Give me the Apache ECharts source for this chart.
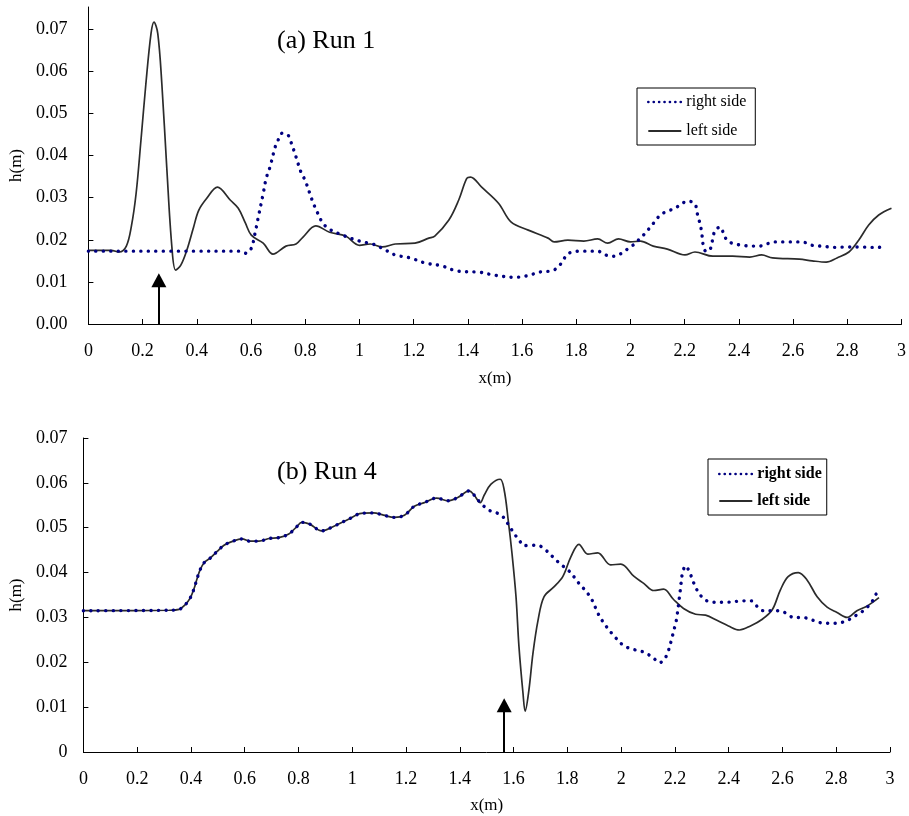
<!DOCTYPE html>
<html>
<head>
<meta charset="utf-8">
<script src="https://cdn.jsdelivr.net/npm/echarts@6/dist/echarts.min.js"></script>
<style>
    html, body { margin: 0; padding: 0; background: #fff; }
    #chart { width: 909px; height: 816px; }
</style>
</head>
<body>
<div id="chart"></div>
<script>
// tick values
const xTicks = [0, 0.2, 0.4, 0.6, 0.8, 1, 1.2, 1.4, 1.6, 1.8, 2, 2.2, 2.4, 2.6, 2.8, 3];
const yTicks = [0, 0.01, 0.02, 0.03, 0.04, 0.05, 0.06, 0.07];

// (a) Run 1 - left side [x, h]
const leftA = [
    [0, 0.0175], [0.084, 0.0175], [0.114, 0.0171], [0.14, 0.0185], [0.158, 0.0230], [0.176, 0.031],
    [0.194, 0.0437], [0.212, 0.057], [0.231, 0.069], [0.242, 0.0717], [0.256, 0.069], [0.271, 0.057],
    [0.289, 0.0373], [0.308, 0.0183], [0.322, 0.0128], [0.341, 0.014], [0.363, 0.0175], [0.388, 0.023],
    [0.407, 0.027], [0.436, 0.0298], [0.476, 0.0325], [0.524, 0.0294], [0.553, 0.0275], [0.579, 0.024],
    [0.601, 0.0211], [0.645, 0.0192], [0.681, 0.0166], [0.729, 0.0185], [0.766, 0.019], [0.791, 0.0206],
    [0.839, 0.0233], [0.890, 0.0218], [0.949, 0.0209], [1.0, 0.0187], [1.040, 0.019], [1.084, 0.0183],
    [1.132, 0.019], [1.205, 0.0192], [1.256, 0.0204], [1.278, 0.0209], [1.330, 0.0247], [1.366, 0.0294],
    [1.396, 0.0346], [1.410, 0.0349], [1.451, 0.0325], [1.513, 0.0287], [1.560, 0.0242], [1.623, 0.0223],
    [1.696, 0.0204], [1.718, 0.0195], [1.769, 0.0199], [1.828, 0.0197], [1.879, 0.0202], [1.916, 0.0192],
    [1.956, 0.0202], [2.0, 0.0195], [2.037, 0.0197], [2.084, 0.0185], [2.136, 0.0178], [2.201, 0.0164],
    [2.238, 0.0171], [2.304, 0.0161], [2.377, 0.0161], [2.440, 0.0159], [2.484, 0.0164], [2.524, 0.0157],
    [2.623, 0.0154], [2.670, 0.015], [2.722, 0.0147], [2.762, 0.0157], [2.806, 0.0171], [2.842, 0.0199],
    [2.879, 0.0235], [2.916, 0.0259], [2.963, 0.0275]
];

// (a) Run 1 - right side
const rightA = [
    [0, 0.0173], [0.56, 0.0173], [0.582, 0.0168], [0.601, 0.018], [0.615, 0.0216], [0.626, 0.0251],
    [0.645, 0.031], [0.656, 0.0346], [0.670, 0.0373], [0.689, 0.042], [0.700, 0.0437], [0.714, 0.0453],
    [0.736, 0.0449], [0.747, 0.0433], [0.766, 0.0397], [0.784, 0.0361], [0.799, 0.0342], [0.817, 0.031],
    [0.828, 0.029], [0.839, 0.0273], [0.853, 0.0254], [0.864, 0.024], [0.890, 0.0225], [0.938, 0.0211],
    [1.0, 0.0197], [1.048, 0.019], [1.084, 0.018], [1.132, 0.0164], [1.187, 0.0157], [1.242, 0.0145],
    [1.304, 0.0138], [1.359, 0.0126], [1.443, 0.0123], [1.498, 0.0116], [1.571, 0.0111], [1.615, 0.0114],
    [1.670, 0.0124], [1.707, 0.0126], [1.733, 0.0135], [1.773, 0.0168], [1.817, 0.0173], [1.879, 0.0173],
    [1.908, 0.0164], [1.938, 0.0161], [1.967, 0.0168], [1.993, 0.018], [2.015, 0.019], [2.033, 0.0202],
    [2.055, 0.0216], [2.073, 0.023], [2.092, 0.0245], [2.110, 0.0259], [2.136, 0.0268], [2.165, 0.0275],
    [2.187, 0.0285], [2.212, 0.0292], [2.238, 0.0285], [2.245, 0.0266], [2.253, 0.0247], [2.260, 0.0228],
    [2.264, 0.0211], [2.267, 0.0192], [2.278, 0.0173], [2.289, 0.0173], [2.300, 0.019], [2.304, 0.0206],
    [2.315, 0.0225], [2.333, 0.023], [2.344, 0.0213], [2.359, 0.0197], [2.385, 0.019], [2.414, 0.0187],
    [2.447, 0.0185], [2.476, 0.0185], [2.502, 0.019], [2.531, 0.0195], [2.586, 0.0195], [2.615, 0.0195],
    [2.648, 0.0193], [2.670, 0.0187], [2.703, 0.0185], [2.733, 0.0183], [2.762, 0.0182], [2.795, 0.0183],
    [2.850, 0.0183], [2.879, 0.0182], [2.908, 0.0182], [2.938, 0.0183]
];

// (b) Run 4 - left side
const leftB = [
    [0, 0.0315], [0.319, 0.0316], [0.356, 0.0318], [0.378, 0.0328], [0.397, 0.0343], [0.412, 0.0365],
    [0.423, 0.0387], [0.434, 0.0406], [0.449, 0.0422], [0.471, 0.0432], [0.497, 0.0447], [0.523, 0.0461],
    [0.552, 0.0469], [0.590, 0.0475], [0.619, 0.047], [0.653, 0.047], [0.690, 0.0476], [0.727, 0.0478],
    [0.764, 0.0486], [0.793, 0.0502], [0.812, 0.0512], [0.842, 0.0508], [0.886, 0.0493], [0.934, 0.0504],
    [0.986, 0.0519], [1.034, 0.0532], [1.079, 0.0533], [1.116, 0.0528], [1.157, 0.0523], [1.194, 0.0528],
    [1.231, 0.0548], [1.268, 0.0556], [1.313, 0.0566], [1.357, 0.056], [1.394, 0.0568], [1.435, 0.0582],
    [1.453, 0.0573], [1.476, 0.0556], [1.491, 0.0573], [1.516, 0.0597], [1.550, 0.0608], [1.565, 0.0584],
    [1.580, 0.0517], [1.594, 0.0443], [1.609, 0.0346], [1.620, 0.0235], [1.635, 0.0131], [1.643, 0.0091],
    [1.657, 0.0138], [1.672, 0.022], [1.691, 0.0294], [1.713, 0.0346], [1.750, 0.0368], [1.783, 0.0391],
    [1.813, 0.0435], [1.843, 0.0463], [1.876, 0.0441], [1.913, 0.0444], [1.961, 0.0417], [1.999, 0.0419],
    [2.047, 0.0392], [2.084, 0.0376], [2.121, 0.036], [2.158, 0.0363], [2.195, 0.034], [2.232, 0.032],
    [2.277, 0.0307], [2.314, 0.0305], [2.358, 0.0293], [2.399, 0.0281], [2.440, 0.0272], [2.481, 0.0281],
    [2.525, 0.0296], [2.562, 0.0317], [2.592, 0.0361], [2.621, 0.0391], [2.659, 0.04], [2.692, 0.0383],
    [2.729, 0.0346], [2.766, 0.0323], [2.803, 0.0311], [2.840, 0.03], [2.877, 0.0315], [2.914, 0.0325],
    [2.959, 0.0344]
];

// (b) Run 4 - right side
const rightB = [
    [0, 0.0315], [0.319, 0.0316], [0.356, 0.0318], [0.378, 0.0328], [0.397, 0.0343], [0.412, 0.0365],
    [0.423, 0.0387], [0.434, 0.0406], [0.449, 0.0422], [0.471, 0.0432], [0.497, 0.0447], [0.523, 0.0461],
    [0.552, 0.0469], [0.590, 0.0475], [0.619, 0.047], [0.653, 0.047], [0.690, 0.0476], [0.727, 0.0478],
    [0.764, 0.0486], [0.793, 0.0502], [0.812, 0.0512], [0.842, 0.0508], [0.886, 0.0493], [0.934, 0.0504],
    [0.986, 0.0519], [1.034, 0.0532], [1.079, 0.0533], [1.116, 0.0528], [1.157, 0.0523], [1.194, 0.0528],
    [1.231, 0.0548], [1.268, 0.0556], [1.313, 0.0566], [1.357, 0.056], [1.394, 0.0568], [1.435, 0.0582],
    [1.453, 0.0573], [1.476, 0.0556], [1.509, 0.0539], [1.554, 0.0528], [1.583, 0.0505], [1.602, 0.0487],
    [1.620, 0.0473], [1.639, 0.046], [1.665, 0.0461], [1.694, 0.046], [1.720, 0.045], [1.746, 0.0435],
    [1.776, 0.0418], [1.802, 0.0406], [1.824, 0.0391], [1.843, 0.0376], [1.861, 0.0364], [1.880, 0.035],
    [1.895, 0.0335], [1.913, 0.031], [1.935, 0.0288], [1.954, 0.0273], [1.973, 0.0259], [2.010, 0.0237],
    [2.043, 0.0229], [2.073, 0.0225], [2.099, 0.0218], [2.121, 0.0209], [2.143, 0.0199], [2.165, 0.0211],
    [2.176, 0.0226], [2.191, 0.0259], [2.199, 0.0278], [2.206, 0.0296], [2.217, 0.0346], [2.221, 0.0365],
    [2.228, 0.0398], [2.240, 0.0415], [2.255, 0.04], [2.266, 0.0383], [2.277, 0.0367], [2.292, 0.0352],
    [2.310, 0.034], [2.340, 0.0334], [2.395, 0.0334], [2.455, 0.0337], [2.484, 0.0337], [2.507, 0.0324],
    [2.529, 0.0315], [2.562, 0.0315], [2.588, 0.0315], [2.618, 0.0308], [2.640, 0.03], [2.673, 0.03],
    [2.703, 0.0296], [2.729, 0.029], [2.759, 0.0287], [2.788, 0.0287], [2.814, 0.0288], [2.844, 0.0294],
    [2.866, 0.0302], [2.892, 0.0311], [2.914, 0.0322], [2.933, 0.0335], [2.948, 0.0352]
];

// arrows: [x, height of arrow head centre]
const arrowA = [0.26, 0.0104];
const arrowB = [1.565, 0.0104];

const FONT = '"Liberation Serif", "Times New Roman", serif';
const solidColor = '#2b2b2b';
const dotColor = '#000080';

function xAxisOpt(gridIndex, gap) {
    return {
        type: 'value', gridIndex: gridIndex, min: 0, max: 3, interval: 0.2,
        name: 'x(m)', nameLocation: 'middle', nameGap: gap,
        nameTextStyle: { fontFamily: FONT, fontSize: 17, color: '#000' },
        axisLine: { lineStyle: { color: '#000', width: 1 } },
        axisTick: { inside: true, length: 5, lineStyle: { color: '#000' } },
        axisLabel: { fontFamily: FONT, fontSize: 18, color: '#000', margin: 18 },
        splitLine: { show: false }
    };
}

function yAxisOpt(gridIndex, max, gap, margin, fmt) {
    return {
        type: 'value', gridIndex: gridIndex, min: 0, max: max,
        name: 'h(m)', nameLocation: 'middle', nameGap: gap,
        nameTextStyle: { fontFamily: FONT, fontSize: 17, color: '#000' },
        axisLine: { show: true, lineStyle: { color: '#000', width: 1 } },
        axisTick: { show: true, inside: true, length: 5, customValues: yTicks, lineStyle: { color: '#000' } },
        axisLabel: { fontFamily: FONT, fontSize: 18, color: '#000', margin: margin, customValues: yTicks, formatter: fmt },
        splitLine: { show: false }
    };
}

function arrowLine(a) {
    return {
        silent: true,
        symbol: ['none', 'triangle'],
        symbolSize: [15, 14],
        label: { show: false },
        lineStyle: { type: 'solid', color: '#000', width: 2 },
        data: [[{ coord: [a[0], 0] }, { coord: [a[0], a[1]] }]]
    };
}

function solidSeries(data, xi, arrow) {
    return {
        name: 'left side', type: 'line', xAxisIndex: xi, yAxisIndex: xi,
        data: data, symbol: 'none', smooth: 0.35,
        lineStyle: { color: solidColor, width: 1.7 },
        itemStyle: { color: solidColor },
        markLine: arrowLine(arrow)
    };
}

function dotSeries(data, xi) {
    return {
        name: 'right side', type: 'line', xAxisIndex: xi, yAxisIndex: xi,
        data: data, symbol: 'none', smooth: 0.35,
        lineStyle: { color: dotColor, width: 3.4, type: [0.1, 7.4], cap: 'round' },
        itemStyle: { color: dotColor }
    };
}

function legendOpt(left, top, bold, gap, pad) {
    return {
        left: left, top: top, orient: 'vertical',
        itemWidth: 33, itemHeight: 12, itemGap: gap,
        padding: pad,
        borderColor: '#000', borderWidth: 1,
        selectedMode: false,
        itemStyle: { opacity: 0, color: 'transparent', borderWidth: 0 },
        data: [
            { name: 'right side', lineStyle: { color: dotColor, width: 2.6, type: [0.1, 5.3], cap: 'round' } },
            { name: 'left side', lineStyle: { color: solidColor, width: 2, type: 'solid' } }
        ],
        textStyle: { fontFamily: FONT, fontSize: 16, color: '#000', fontWeight: bold ? 'bold' : 'normal' }
    };
}

echarts.init(document.querySelector('#chart')).setOption({
    backgroundColor: '#fff',
    animation: false,
    title: [
        { text: '(a) Run 1', left: 277, top: 28, padding: 0, textStyle: { fontFamily: FONT, fontSize: 26, fontWeight: 'normal', color: '#000' } },
        { text: '(b) Run 4', left: 277, top: 459, padding: 0, textStyle: { fontFamily: FONT, fontSize: 26, fontWeight: 'normal', color: '#000' } }
    ],
    legend: [
        legendOpt(637, 88, false, 13, [6, 9, 6, 10]),
        legendOpt(708, 459, true, 11, [7, 5, 6, 10])
    ],
    grid: [
        { left: 84, width: 819, top: 7, height: 317 },
        { left: 81, width: 809, top: 438, height: 314 }
    ],
    xAxis: [xAxisOpt(0, 46), xAxisOpt(1, 45)],
    yAxis: [
        yAxisOpt(0, 0.0753, 59, 21, v => v.toFixed(2)),
        yAxisOpt(1, 0.07, 56, 16, v => v === 0 ? '0' : v.toFixed(2))
    ],
    series: [
        solidSeries(leftA, 0, arrowA),
        dotSeries(rightA, 0),
        solidSeries(leftB, 1, arrowB),
        dotSeries(rightB, 1)
    ]
});
</script>
</body>
</html>
